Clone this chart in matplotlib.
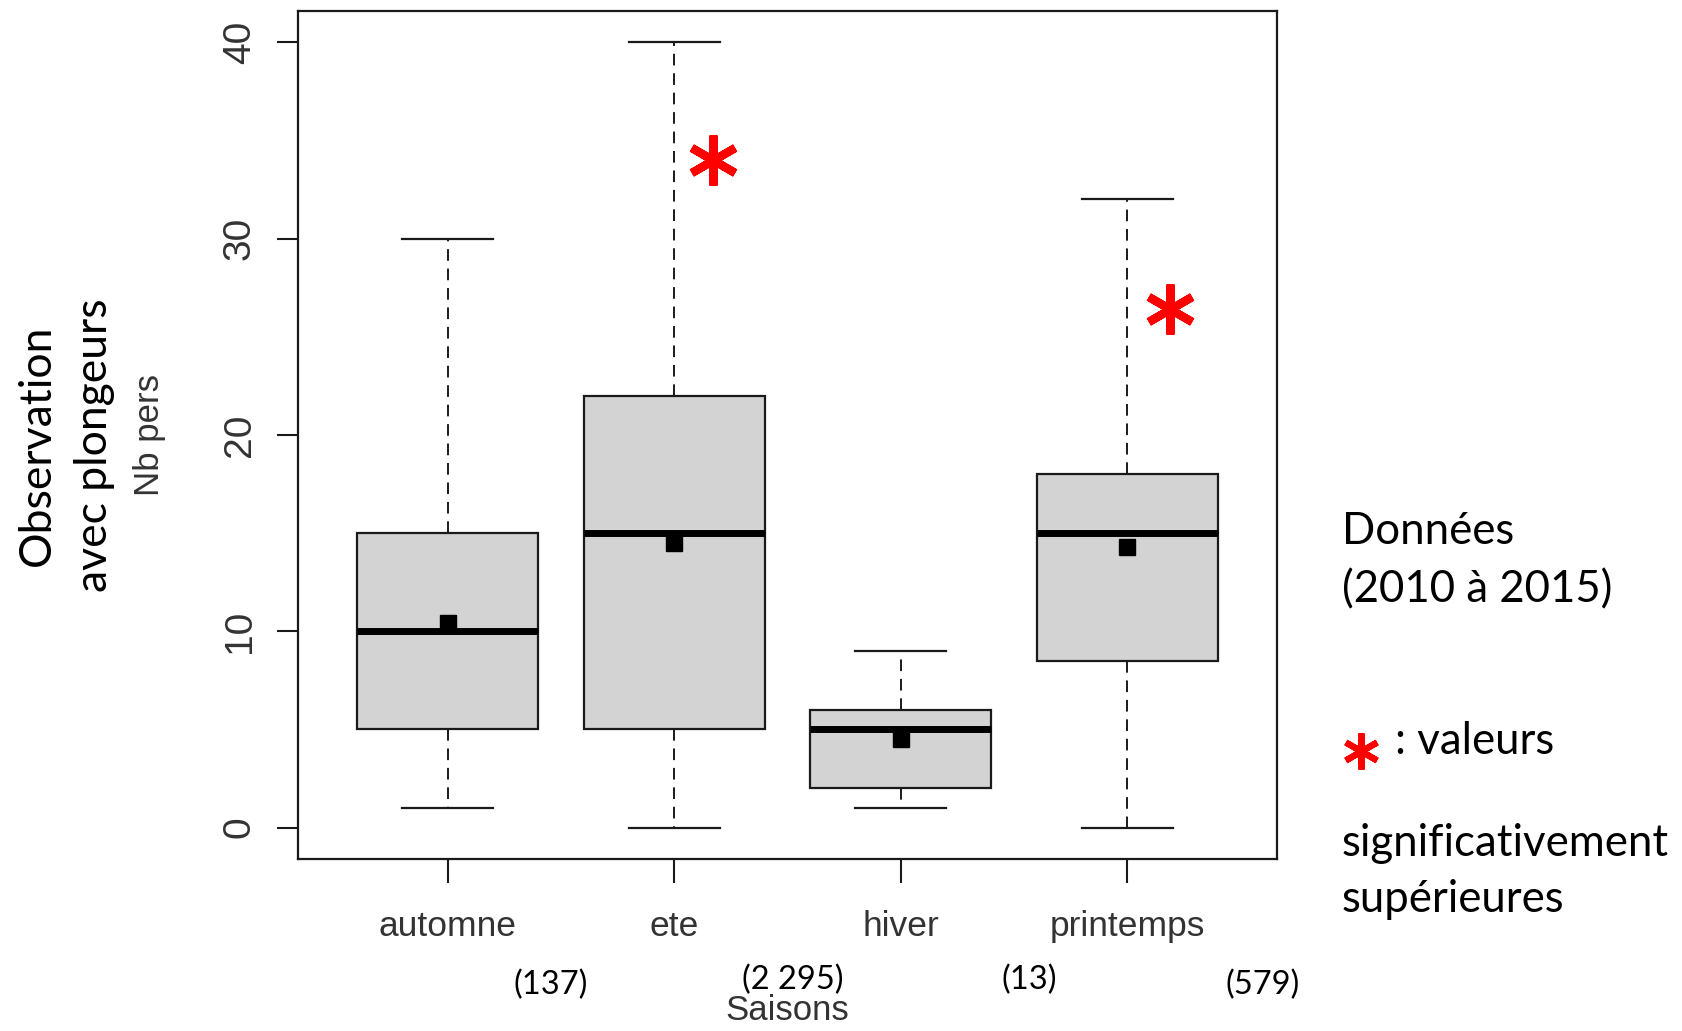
import matplotlib.pyplot as plt

# --- data ---
saisons = ['automne', 'ete', 'hiver', 'printemps']
effectifs = ['(137)', '(2 295)', '(13)', '(579)']
whis_bas = [1, 0, 1, 0]
q1 = [5, 5, 2, 8.5]
mediane = [10, 15, 5, 15]
q3 = [15, 22, 6, 18]
whis_haut = [30, 40, 9, 32]
moyenne = [10.4, 14.5, 4.5, 14.3]

# seasons flagged as significantly higher (red stars)
sig_pos = [2.17, 4.19]
sig_y = [34.0, 26.4]

W, H = 1683, 1031
fig = plt.figure(figsize=(W / 100, H / 100), dpi=100)
ax = fig.add_axes([298 / W, 1 - 859 / H, (1277 - 298) / W, (859 - 11) / H])

stats = []
for i, s in enumerate(saisons):
    stats.append(dict(label=s, whislo=whis_bas[i], q1=q1[i], med=mediane[i],
                      q3=q3[i], whishi=whis_haut[i], mean=moyenne[i], fliers=[]))

edge = '#1a1a1a'
ax.bxp(stats, positions=range(1, 5), widths=0.8, capwidths=0.4,
       patch_artist=True, showmeans=True, showfliers=False,
       boxprops=dict(facecolor='#d3d3d3', edgecolor=edge, linewidth=1.6),
       medianprops=dict(color='black', linewidth=5, solid_capstyle='butt'),
       whiskerprops=dict(color=edge, linewidth=1.4, linestyle=(0, (6, 4))),
       capprops=dict(color=edge, linewidth=1.6),
       meanprops=dict(marker='s', markerfacecolor='black', markeredgecolor='black',
                      markersize=11.5))

ax.plot(sig_pos, sig_y, linestyle='none', marker=(6, 2, 0), markersize=36,
        markeredgewidth=6, color='#ff0000')

ax.set_xlim(0.34, 4.66)
ax.set_ylim(-1.6, 41.6)
ax.set_yticks([0, 10, 20, 30, 40])
ax.set_xticks([1, 2, 3, 4])
ax.set_xticklabels(saisons)

tick_font = dict(family=['Liberation Sans', 'DejaVu Sans'], size=25, color='#333333')
for lab in ax.get_xticklabels():
    lab.set(family=['Liberation Sans', 'DejaVu Sans'], size=25.5, color='#333333')
for lab in ax.get_yticklabels():
    lab.set(family=['Liberation Sans', 'DejaVu Sans'], size=28, color='#333333')
    lab.set_rotation(90)
    lab.set_verticalalignment('center')
ax.tick_params(axis='x', length=17, width=1.5, color=edge, pad=20)
ax.tick_params(axis='y', length=15, width=1.5, color=edge, pad=14)
for sp in ax.spines.values():
    sp.set_linewidth(1.6)
    sp.set_color(edge)

fig.text(150 / W, 1 - 435 / H, 'Nb pers', rotation=90, ha='center', va='center',
         **tick_font)
fig.text(787 / W, 1 - 1011 / H, 'Saisons', ha='center', va='center', **tick_font)

cal = ['Lato', 'DejaVu Sans']
fig.text(66 / W, 1 - 445 / H, 'Observation\navec plongeurs', rotation=90,
         ha='center', va='center', multialignment='center', linespacing=1.5,
         family=cal, size=32, color='black')

cnt_x = [551, 793, 1029, 1263]
cnt_y = [985, 980, 980, 985]
for lab, cx, cy in zip(effectifs, cnt_x, cnt_y):
    fig.text(cx / W, 1 - cy / H, lab, ha='center', va='center', family=cal,
             size=23.5, color='black')

fig.text(1342 / W, 1 - 531 / H, 'Données', ha='left', va='center', family=cal,
         size=31.5)
fig.text(1342 / W, 1 - 590 / H, '(2010 à 2015)', ha='left', va='center',
         family=cal, size=31.5)
fig.text(1395 / W, 1 - 741 / H, ': valeurs', ha='left', va='center',
         family=cal, size=31.5)
fig.text(1342 / W, 1 - 843 / H, 'significativement', ha='left', va='center',
         family=cal, size=31.5)
fig.text(1342 / W, 1 - 899 / H, 'supérieures', ha='left', va='center',
         family=cal, size=31.5)
fig.lines.append(plt.Line2D([1361 / W], [1 - 751 / H], transform=fig.transFigure,
                            linestyle='none', marker=(6, 2, 0), markersize=26,
                            markeredgewidth=4.5, color='#ff0000'))

fig.savefig('out.png', dpi=100)
